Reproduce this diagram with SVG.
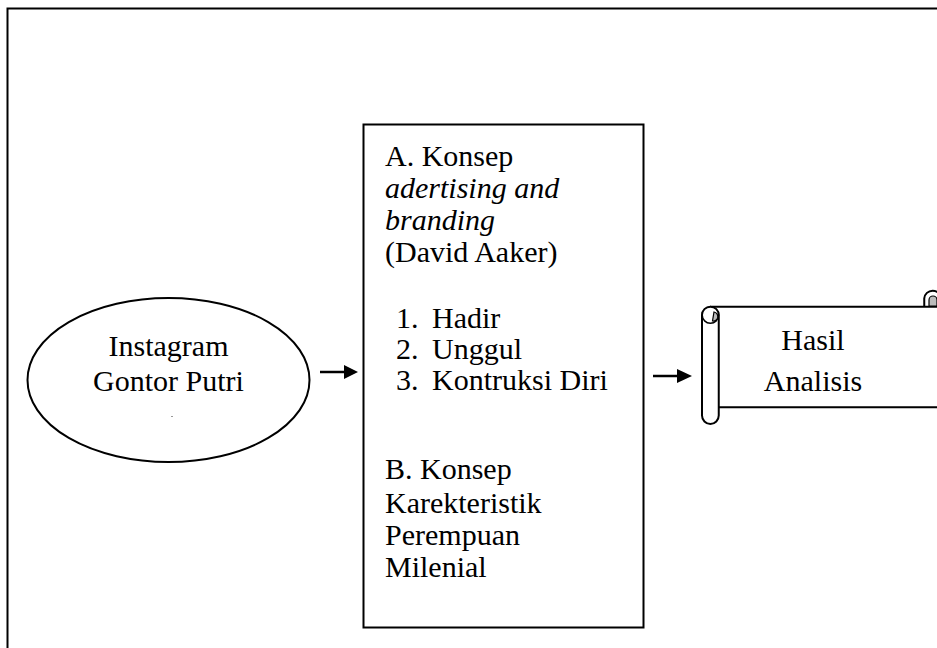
<svg xmlns="http://www.w3.org/2000/svg" width="937" height="648" viewBox="0 0 937 648">
<style>
.t{font-size:30px;fill:#000}
.i{font-style:italic}
.ln{fill:none;stroke:#000;stroke-width:2}
</style>
<rect width="937" height="648" fill="#fff"/>
<rect id="frame" x="7.5" y="8.5" width="1000" height="1000" fill="none" stroke="#000" stroke-width="2"/>
<g font-family="'Liberation Serif', 'Times New Roman', 'DejaVu Serif', serif">
<g id="instagram">
<ellipse cx="168.5" cy="380" rx="141" ry="82" fill="#fff" stroke="#000" stroke-width="2"/>
<text class="t" x="168.5" y="356" text-anchor="middle">Instagram</text>
<text class="t" x="168.5" y="391" text-anchor="middle">Gontor Putri</text>
<rect x="171" y="416" width="2" height="1" fill="#999"/>
</g>
<g id="konsep">
<rect x="363.5" y="124.5" width="280" height="503" fill="#fff" stroke="#000" stroke-width="2"/>
<text class="t" x="385" y="166">A. Konsep</text>
<text class="t i" x="385" y="198">adertising and</text>
<text class="t i" x="385" y="230">branding</text>
<text class="t" x="385" y="262">(David Aaker)</text>
<text class="t" x="396" y="328">1.</text><text class="t" x="432" y="328">Hadir</text>
<text class="t" x="396" y="359">2.</text><text class="t" x="432" y="359">Unggul</text>
<text class="t" x="396" y="390">3.</text><text class="t" x="432" y="390">Kontruksi Diri</text>
<text class="t" x="385" y="479">B. Konsep</text>
<text class="t" x="385" y="513">Karekteristik</text>
<text class="t" x="385" y="545">Perempuan</text>
<text class="t" x="385" y="577">Milenial</text>
</g>
<g id="hasil">
<path d="M710,306.75 H950 M718.75,407.25 H950" class="ln"/>
<rect x="702" y="306.75" width="16.75" height="117.25" rx="8.4" fill="#fff" stroke="#000" stroke-width="2"/>
<circle cx="710.4" cy="315.1" r="8.2" fill="#fff" stroke="#000" stroke-width="1.5"/>
<path d="M712.5,321 A4,4 0 1 0 714,312 Z" fill="#bbb" stroke="#000" stroke-width="1.2"/>
<path d="M924.25,306.75 V298.4 A8.4,8.4 0 0 1 941,298.4" class="ln"/>
<path d="M929,306 V300 A4,4 0 0 1 937,300 V306 Z" fill="#bbb" stroke="#000" stroke-width="1.2"/>
<text class="t" x="813" y="350" text-anchor="middle">Hasil</text>
<text class="t" x="813" y="391" text-anchor="middle">Analisis</text>
</g>
</g>
<g id="connectors">
<line x1="320" y1="372" x2="346" y2="372" stroke="#000" stroke-width="2.5"/>
<polygon points="344,365 358,372 344,379"/>
<line x1="653" y1="376" x2="679" y2="376" stroke="#000" stroke-width="2.5"/>
<polygon points="677,369 692,376 677,383"/>
</g>
</svg>
